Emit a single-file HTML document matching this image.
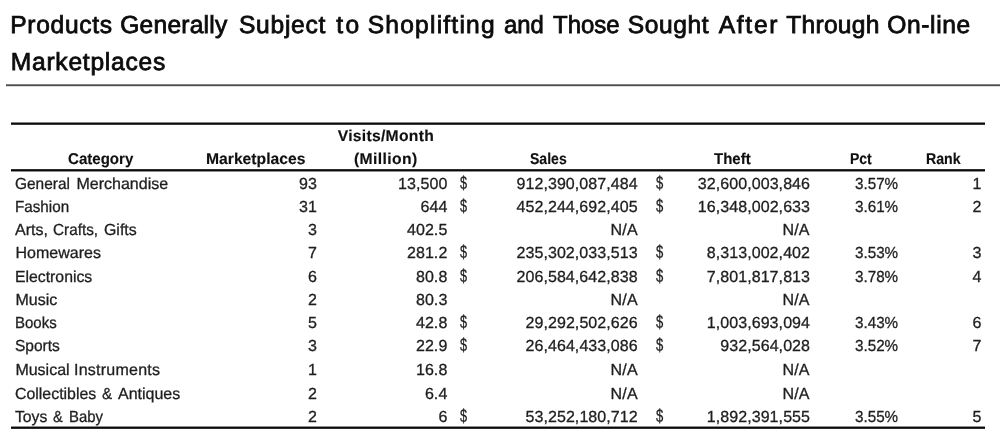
<!DOCTYPE html>
<html><head><meta charset="utf-8"><title>Products Generally Subject to Shoplifting</title>
<style>
html,body{margin:0;padding:0;background:#fff;}
body{width:1000px;height:433px;position:relative;overflow:hidden;font-family:"Liberation Sans",sans-serif;text-rendering:geometricPrecision;}
.t{position:absolute;white-space:nowrap;line-height:20px;font-size:16.0px;color:#1e1e1e;-webkit-text-stroke:0.3px #1e1e1e;transform-origin:0 50%;}
.h{font-weight:bold;font-size:15.7px;color:#101010;-webkit-text-stroke:0.15px #101010;}
.ti{font-size:24.6px;line-height:36px;color:#0c0c0c;-webkit-text-stroke:0.8px #0c0c0c;}
.d{font-size:18.4px;}
svg{position:absolute;left:0;top:0;}
</style></head><body>
<svg width="1000" height="433" viewBox="0 0 1000 433">
<rect x="6" y="84.3" width="994" height="1.9" fill="#4d4d4d"/>
<rect x="11" y="122.5" width="974" height="2.3" fill="#0a0a0a"/>
<rect x="11" y="169.15" width="974" height="2.3" fill="#0a0a0a"/>
<rect x="11" y="426.55" width="974" height="2.3" fill="#0a0a0a"/>
</svg>
<div id="w" style="position:absolute;left:0;top:0;width:1000px;height:433px;will-change:transform">
<div class="t ti" style="left:10.25px;top:8.00px;letter-spacing:0.679px">Products</div>
<div class="t ti" style="left:120.25px;top:8.00px;letter-spacing:0.219px">Generally</div>
<div class="t ti" style="left:239.00px;top:8.00px;letter-spacing:0.708px">Subject</div>
<div class="t ti" style="left:336.25px;top:8.00px;letter-spacing:2.500px">to</div>
<div class="t ti" style="left:367.75px;top:8.00px;letter-spacing:1.200px">Shoplifting</div>
<div class="t ti" style="left:503.75px;top:8.00px;transform:scaleX(0.9688)">and</div>
<div class="t ti" style="left:552.50px;top:8.00px;transform:scaleX(0.9743)">Those</div>
<div class="t ti" style="left:627.75px;top:8.00px;letter-spacing:0.600px">Sought</div>
<div class="t ti" style="left:718.75px;top:8.00px;letter-spacing:1.688px">After</div>
<div class="t ti" style="left:786.25px;top:8.00px;letter-spacing:0.250px">Through</div>
<div class="t ti" style="left:887.25px;top:8.00px;letter-spacing:0.625px">On-line</div>
<div class="t ti" style="left:10.75px;top:45.00px;letter-spacing:0.750px">Marketplaces</div>
<div class="t h" style="left:68.10px;top:150.00px;transform:scaleX(0.9603)">Category</div>
<div class="t h" style="left:206.00px;top:150.00px;letter-spacing:0.000px">Marketplaces</div>
<div class="t h" style="left:337.70px;top:127.00px;letter-spacing:0.282px">Visits/Month</div>
<div class="t h" style="left:354.00px;top:150.00px;letter-spacing:0.375px">(Million)</div>
<div class="t h" style="left:530.00px;top:150.00px;transform:scaleX(0.8951)">Sales</div>
<div class="t h" style="left:714.40px;top:150.00px;transform:scaleX(0.9564)">Theft</div>
<div class="t h" style="left:849.50px;top:150.00px;transform:scaleX(0.8920)">Pct</div>
<div class="t h" style="left:925.80px;top:150.00px;transform:scaleX(0.9026)">Rank</div>
<div class="t" style="left:15.00px;top:175.00px;transform:scaleX(0.9649)">General</div>
<div class="t" style="left:76.40px;top:175.00px;letter-spacing:0.020px">Merchandise</div>
<div class="t" style="left:299.12px;top:175.00px;letter-spacing:0.08px">93</div>
<div class="t" style="left:397.96px;top:175.00px;letter-spacing:0.08px">13,500</div>
<div class="t d" style="left:459.80px;top:173.00px;transform:scaleX(0.6909)">$</div>
<div class="t" style="left:516.46px;top:175.00px;letter-spacing:0.08px">912,390,087,484</div>
<div class="t d" style="left:656.40px;top:173.00px;transform:scaleX(0.7091)">$</div>
<div class="t" style="left:697.74px;top:175.00px;letter-spacing:0.08px">32,600,003,846</div>
<div class="t" style="left:854.70px;top:175.00px;transform:scaleX(0.9500)">3.57%</div>
<div class="t" style="left:972.49px;top:175.00px;letter-spacing:0.08px">1</div>
<div class="t" style="left:15.40px;top:198.00px;transform:scaleX(0.9509)">Fashion</div>
<div class="t" style="left:299.12px;top:198.00px;letter-spacing:0.08px">31</div>
<div class="t" style="left:420.44px;top:198.00px;letter-spacing:0.08px">644</div>
<div class="t d" style="left:459.80px;top:196.00px;transform:scaleX(0.6909)">$</div>
<div class="t" style="left:516.46px;top:198.00px;letter-spacing:0.08px">452,244,692,405</div>
<div class="t d" style="left:656.40px;top:196.00px;transform:scaleX(0.7091)">$</div>
<div class="t" style="left:697.74px;top:198.00px;letter-spacing:0.08px">16,348,002,633</div>
<div class="t" style="left:854.70px;top:198.00px;transform:scaleX(0.9500)">3.61%</div>
<div class="t" style="left:972.49px;top:198.00px;letter-spacing:0.08px">2</div>
<div class="t" style="left:15.00px;top:221.00px;letter-spacing:0.000px">Arts,</div>
<div class="t" style="left:53.00px;top:221.00px;transform:scaleX(0.9574)">Crafts,</div>
<div class="t" style="left:103.60px;top:221.00px;transform:scaleX(0.9939)">Gifts</div>
<div class="t" style="left:308.09px;top:221.00px;letter-spacing:0.08px">3</div>
<div class="t" style="left:406.93px;top:221.00px;letter-spacing:0.08px">402.5</div>
<div class="t" style="left:610.60px;top:221.00px;letter-spacing:0.200px">N/A</div>
<div class="t" style="left:782.40px;top:221.00px;letter-spacing:0.200px">N/A</div>
<div class="t" style="left:15.40px;top:244.00px;letter-spacing:0.025px">Homewares</div>
<div class="t" style="left:308.09px;top:244.00px;letter-spacing:0.08px">7</div>
<div class="t" style="left:406.93px;top:244.00px;letter-spacing:0.08px">281.2</div>
<div class="t d" style="left:459.80px;top:242.00px;transform:scaleX(0.6909)">$</div>
<div class="t" style="left:516.46px;top:244.00px;letter-spacing:0.08px">235,302,033,513</div>
<div class="t d" style="left:656.40px;top:242.00px;transform:scaleX(0.7091)">$</div>
<div class="t" style="left:706.71px;top:244.00px;letter-spacing:0.08px">8,313,002,402</div>
<div class="t" style="left:854.70px;top:244.00px;transform:scaleX(0.9500)">3.53%</div>
<div class="t" style="left:972.49px;top:244.00px;letter-spacing:0.08px">3</div>
<div class="t" style="left:15.40px;top:268.00px;transform:scaleX(0.9872)">Electronics</div>
<div class="t" style="left:308.09px;top:268.00px;letter-spacing:0.08px">6</div>
<div class="t" style="left:415.92px;top:268.00px;letter-spacing:0.08px">80.8</div>
<div class="t d" style="left:459.80px;top:266.00px;transform:scaleX(0.6909)">$</div>
<div class="t" style="left:516.46px;top:268.00px;letter-spacing:0.08px">206,584,642,838</div>
<div class="t d" style="left:656.40px;top:266.00px;transform:scaleX(0.7091)">$</div>
<div class="t" style="left:706.71px;top:268.00px;letter-spacing:0.08px">7,801,817,813</div>
<div class="t" style="left:854.70px;top:268.00px;transform:scaleX(0.9500)">3.78%</div>
<div class="t" style="left:972.49px;top:268.00px;letter-spacing:0.08px">4</div>
<div class="t" style="left:15.40px;top:291.00px;letter-spacing:0.050px">Music</div>
<div class="t" style="left:308.09px;top:291.00px;letter-spacing:0.08px">2</div>
<div class="t" style="left:415.92px;top:291.00px;letter-spacing:0.08px">80.3</div>
<div class="t" style="left:610.60px;top:291.00px;letter-spacing:0.200px">N/A</div>
<div class="t" style="left:782.40px;top:291.00px;letter-spacing:0.200px">N/A</div>
<div class="t" style="left:15.40px;top:314.00px;transform:scaleX(0.9378)">Books</div>
<div class="t" style="left:308.09px;top:314.00px;letter-spacing:0.08px">5</div>
<div class="t" style="left:415.92px;top:314.00px;letter-spacing:0.08px">42.8</div>
<div class="t d" style="left:459.80px;top:312.00px;transform:scaleX(0.6909)">$</div>
<div class="t" style="left:525.44px;top:314.00px;letter-spacing:0.08px">29,292,502,626</div>
<div class="t d" style="left:656.40px;top:312.00px;transform:scaleX(0.7091)">$</div>
<div class="t" style="left:706.71px;top:314.00px;letter-spacing:0.08px">1,003,693,094</div>
<div class="t" style="left:854.70px;top:314.00px;transform:scaleX(0.9500)">3.43%</div>
<div class="t" style="left:972.49px;top:314.00px;letter-spacing:0.08px">6</div>
<div class="t" style="left:15.00px;top:337.00px;transform:scaleX(0.9696)">Sports</div>
<div class="t" style="left:308.09px;top:337.00px;letter-spacing:0.08px">3</div>
<div class="t" style="left:415.92px;top:337.00px;letter-spacing:0.08px">22.9</div>
<div class="t d" style="left:459.80px;top:335.00px;transform:scaleX(0.6909)">$</div>
<div class="t" style="left:525.44px;top:337.00px;letter-spacing:0.08px">26,464,433,086</div>
<div class="t d" style="left:656.40px;top:335.00px;transform:scaleX(0.7091)">$</div>
<div class="t" style="left:720.22px;top:337.00px;letter-spacing:0.08px">932,564,028</div>
<div class="t" style="left:854.70px;top:337.00px;transform:scaleX(0.9500)">3.52%</div>
<div class="t" style="left:972.49px;top:337.00px;letter-spacing:0.08px">7</div>
<div class="t" style="left:15.40px;top:361.00px;letter-spacing:0.000px">Musical</div>
<div class="t" style="left:74.00px;top:361.00px;letter-spacing:0.240px">Instruments</div>
<div class="t" style="left:308.09px;top:361.00px;letter-spacing:0.08px">1</div>
<div class="t" style="left:415.92px;top:361.00px;letter-spacing:0.08px">16.8</div>
<div class="t" style="left:610.60px;top:361.00px;letter-spacing:0.200px">N/A</div>
<div class="t" style="left:782.40px;top:361.00px;letter-spacing:0.200px">N/A</div>
<div class="t" style="left:15.00px;top:385.00px;transform:scaleX(0.9927)">Collectibles</div>
<div class="t" style="left:102.00px;top:385.00px;transform:scaleX(0.9455)">&amp;</div>
<div class="t" style="left:118.00px;top:385.00px;letter-spacing:0.000px">Antiques</div>
<div class="t" style="left:308.09px;top:385.00px;letter-spacing:0.08px">2</div>
<div class="t" style="left:424.89px;top:385.00px;letter-spacing:0.08px">6.4</div>
<div class="t" style="left:610.60px;top:385.00px;letter-spacing:0.200px">N/A</div>
<div class="t" style="left:782.40px;top:385.00px;letter-spacing:0.200px">N/A</div>
<div class="t" style="left:14.60px;top:408.00px;transform:scaleX(0.9818)">Toys</div>
<div class="t" style="left:53.00px;top:408.00px;transform:scaleX(0.9091)">&amp;</div>
<div class="t" style="left:68.60px;top:408.00px;transform:scaleX(0.9297)">Baby</div>
<div class="t" style="left:308.09px;top:408.00px;letter-spacing:0.08px">2</div>
<div class="t" style="left:438.39px;top:408.00px;letter-spacing:0.08px">6</div>
<div class="t d" style="left:459.80px;top:406.00px;transform:scaleX(0.6909)">$</div>
<div class="t" style="left:525.44px;top:408.00px;letter-spacing:0.08px">53,252,180,712</div>
<div class="t d" style="left:656.40px;top:406.00px;transform:scaleX(0.7091)">$</div>
<div class="t" style="left:706.71px;top:408.00px;letter-spacing:0.08px">1,892,391,555</div>
<div class="t" style="left:854.70px;top:408.00px;transform:scaleX(0.9500)">3.55%</div>
<div class="t" style="left:972.49px;top:408.00px;letter-spacing:0.08px">5</div>
</div></body></html>
